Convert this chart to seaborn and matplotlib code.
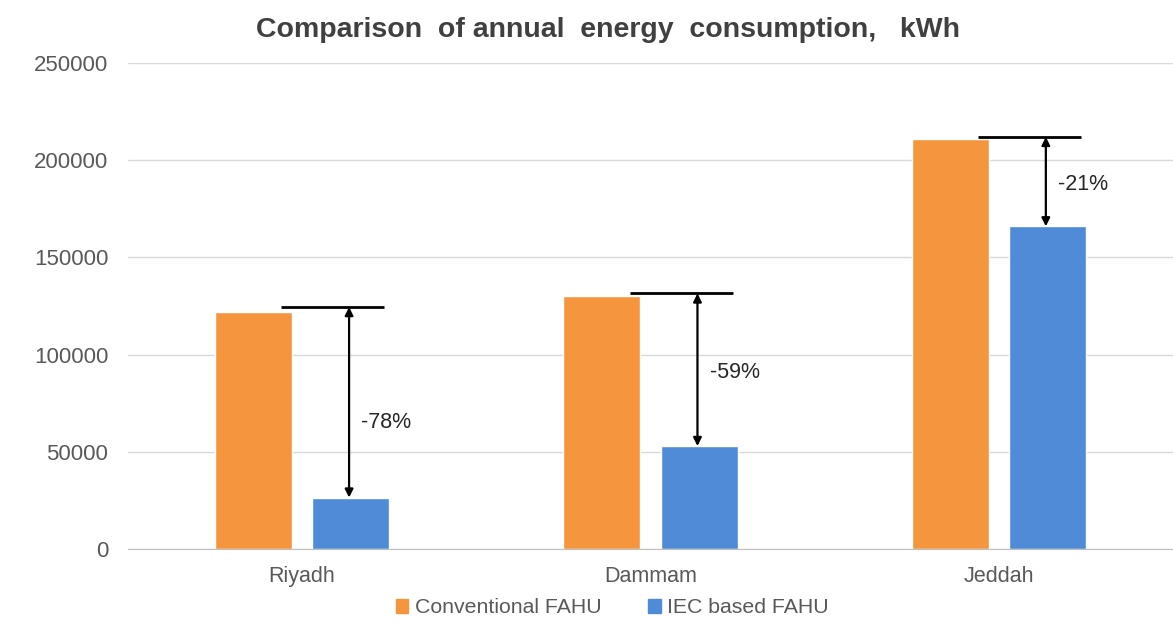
import pandas as pd
import numpy as np
import matplotlib.pyplot as plt
import matplotlib.patches as mpatches
import seaborn as sns

# data
cities = ["Riyadh", "Dammam", "Jeddah"]
conventional = [122000, 130000, 211000]
iec_based = [26500, 53000, 166000]
ref_level = [124500, 131500, 212000]
savings = ["-78%", "-59%", "-21%"]
label_y = [65000, 91000, 187500]

series = ["Conventional FAHU", "IEC based FAHU"]
colors = ["#F5963F", "#4F8BD6"]

df = pd.DataFrame({
    "city": cities * 2,
    "kwh": conventional + iec_based,
    "system": [series[0]] * 3 + [series[1]] * 3,
})

sns.set_style("white")
plt.rcParams["font.family"] = ["Liberation Sans", "DejaVu Sans"]

fig = plt.figure(figsize=(11.73, 6.24), dpi=100)
ax = fig.add_axes([0.109, 0.12, 0.891, 0.779])

sns.barplot(data=df, x="city", y="kwh", hue="system", palette=colors,
            width=0.56, gap=0.21, ax=ax, legend=False, saturation=1)

ax.set_ylim(0, 250000)
ax.set_xlim(-0.5, 2.5)
ax.set_yticks(np.arange(0, 250001, 50000))
ax.grid(axis="y", color="#D9D9D9", linewidth=1)
ax.set_axisbelow(True)
for s in ["top", "right", "left"]:
    ax.spines[s].set_visible(False)
ax.spines["bottom"].set_color("#BFBFBF")
ax.tick_params(axis="x", length=0, labelsize=15.5, colors="#595959", pad=12)
ax.tick_params(axis="y", length=0, labelsize=16, colors="#595959", pad=14)
ax.set_xlabel("")
ax.set_ylabel("")

# reduction markers: reference line at conventional level, arrow down to IEC bar
for i in range(len(cities)):
    ax.plot([i - 0.06, i + 0.236], [ref_level[i], ref_level[i]],
            color="black", linewidth=2, solid_capstyle="butt")
    ax.annotate("", xy=(i + 0.135, iec_based[i]), xytext=(i + 0.135, ref_level[i]),
                arrowprops=dict(arrowstyle="<|-|>", color="black", lw=1.6,
                                mutation_scale=12, shrinkA=0, shrinkB=0))
    ax.text(i + 0.17, label_y[i], savings[i], fontsize=15.5, color="#262626",
            va="center", ha="left")

fig.text(0.518, 0.952, "Comparison  of annual  energy  consumption,   kWh",
         ha="center", va="center", fontsize=20.5, fontweight="bold", color="#404040")

handles = [mpatches.Patch(color=c, label=l) for c, l in zip(colors, series)]
fig.legend(handles=handles, loc="center", bbox_to_anchor=(0.522, 0.026), ncol=2,
           frameon=False, fontsize=15.3, handlelength=0.6, handleheight=0.6,
           handletextpad=0.3, columnspacing=2.2, labelcolor="#595959")

fig.savefig("out.png", dpi=100)
